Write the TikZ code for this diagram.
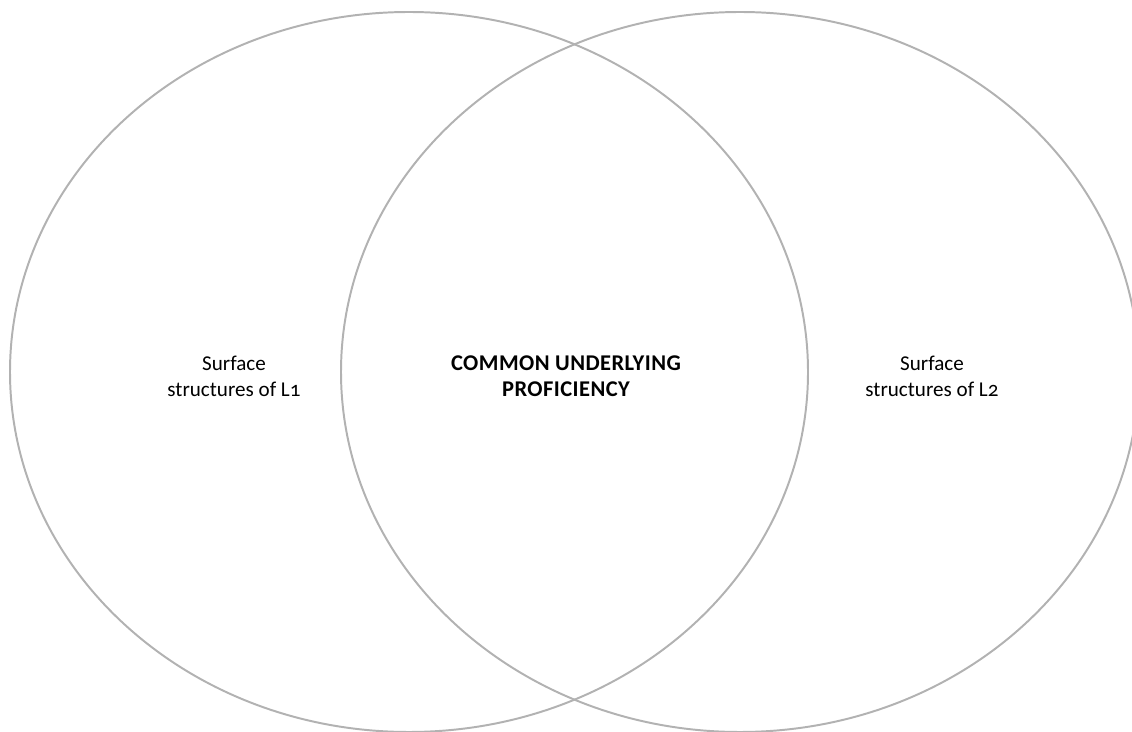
\documentclass[tikz,border=0pt]{standalone}
\usepackage{fontspec}
\setmainfont[Numbers=OldStyle]{Carlito}
\usetikzlibrary{shapes.geometric}

\begin{document}
\begin{tikzpicture}[x=0.025cm,y=0.025cm]
    \pgfmathsetmacro{\picwidth}{1132}
    \pgfmathsetmacro{\picheight}{731}
    \pgfmathsetmacro{\ovalwidth}{798}
    \pgfmathsetmacro{\ovalheight}{720}
    \pgfmathsetmacro{\midline}{359}
    \providecommand{\labelfontsize}{\fontsize{15pt}{18.5pt}\selectfont}
    \providecommand{\cupfontsize}{\fontsize{16pt}{18.5pt}\selectfont}
    \tikzset{
        oval/.style={ellipse,draw=black!30,line width=1.4pt,inner sep=0,
            minimum width=\ovalwidth*0.025cm,minimum height=\ovalheight*0.025cm},
        label text/.style={align=center,font=\labelfontsize}
    }
    \clip (0,0) rectangle (\picwidth,\picheight);
    \node[oval](first) at (409,\midline){};
    \node[oval](second) at (740,\midline){};
    \node[label text](surfaceone) at (234,\midline-4){Surface\\structures of L1};
    \node[label text,font=\cupfontsize\bfseries\addfontfeature{LetterSpace=2}](cup) at (566,\midline-4){COMMON UNDERLYING\\PROFICIENCY};
    \node[label text](surfacetwo) at (932,\midline-4){Surface\\structures of L2};
\end{tikzpicture}
\end{document}
